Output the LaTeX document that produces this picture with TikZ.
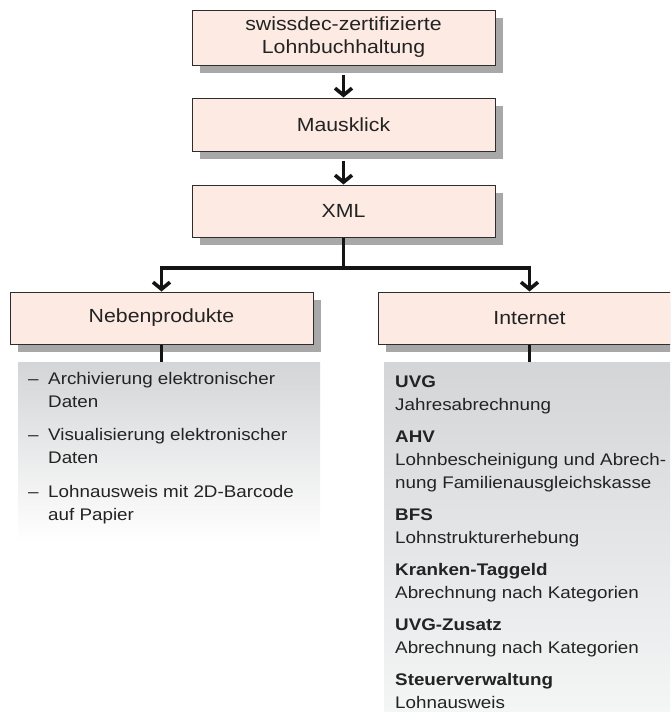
\documentclass[tikz,border=0pt]{standalone}
\usepackage{fontspec}
\setmainfont{Liberation Sans}[FakeStretch=1.12]
\usetikzlibrary{arrows.meta,shadows}
\definecolor{boxfill}{RGB}{253,234,227}
\definecolor{boxline}{RGB}{45,45,45}
\definecolor{shadowc}{RGB}{168,168,168}
\definecolor{paneltop}{RGB}{212,213,215}
\definecolor{panelbot}{RGB}{244,245,245}
\definecolor{txt}{RGB}{35,35,35}
\begin{document}
\begin{tikzpicture}[x=1pt,y=-1pt,
  flowbox/.style={draw=boxline, line width=1pt, fill=boxfill, minimum width=303pt, inner sep=0pt, align=center, text=txt, font=\fontsize{19}{23}\selectfont, drop shadow={shadow xshift=8pt, shadow yshift=-8pt, fill=shadowc, opacity=1}},
  panel/.style={anchor=north west, inner sep=0pt, draw=none},
  conn/.style={line width=3.6pt, draw=black!92},
  arr/.style={conn, -{Straight Barb[length=7pt,width=17pt]}},
  ptext/.style={anchor=base west, inner sep=0pt, text=txt, font=\fontsize{16.8}{23}\selectfont},
  phead/.style={ptext, font=\fontsize{16.8}{23}\selectfont\bfseries}]
\useasboundingbox (0,0) rectangle (670,712);
\clip (0,0) rectangle (670,712);
\fill[white] (0,0) rectangle (670,712);

% panels
\node[panel, minimum width=302pt, minimum height=180pt, top color=paneltop, bottom color=white] (lp) at (18,362) {};
\node[panel, minimum width=300pt, minimum height=350pt, top color=paneltop, bottom color=panelbot] (rp) at (384,362) {};

% boxes
\node[flowbox, minimum height=55pt] (b1) at (343.5,37.5) {swissdec-zertifizierte\\Lohnbuchhaltung};
\node[flowbox, minimum height=53pt] (b2) at (343.5,124.5) {Mausklick};
\node[flowbox, minimum height=52pt] (b3) at (343.5,211) {XML};
\node[flowbox, minimum height=52pt] (nb) at (161.5,318) {Nebenprodukte};
\node[flowbox, minimum height=52pt] (inet) at (529.5,318) {Internet};

% connectors
\draw[arr] ([yshift=-9pt]b1.south) -- (b2.north);
\draw[arr] ([yshift=-9pt]b2.south) -- (b3.north);
\coordinate (split) at (343.5,268);
\draw[conn] (b3.south) -- (split);
\draw[arr] (split) -| (nb.north);
\draw[arr] (split) -| (inet.north);
\draw[conn] (nb.south) -- (nb.south |- lp.north);
\draw[conn] (inet.south) -- (inet.south |- rp.north);

% left panel text
\node[ptext] (d1) at (28,384) {–};
\node[ptext] (l1a) at (48,384) {Archivierung elektronischer};
\node[ptext] (l1b) at (48,407) {Daten};
\node[ptext] (d2) at (28,440.5) {–};
\node[ptext] (l2a) at (48,440.5) {Visualisierung elektronischer};
\node[ptext] (l2b) at (48,463.5) {Daten};
\node[ptext] (d3) at (28,497) {–};
\node[ptext] (l3a) at (48,497) {Lohnausweis mit 2D-Barcode};
\node[ptext] (l3b) at (48,520) {auf Papier};

% right panel text
\node[phead] (h1) at (395,387.7) {UVG};
\node[ptext] (t1) at (395,410.7) {Jahresabrechnung};
\node[phead] (h2) at (395,442.7) {AHV};
\node[ptext] (t2a) at (395,465.7) {Lohnbescheinigung und Abrech-};
\node[ptext] (t2b) at (395,488.7) {nung Familienausgleichskasse};
\node[phead] (h3) at (395,520.7) {BFS};
\node[ptext] (t3) at (395,543.7) {Lohnstrukturerhebung};
\node[phead] (h4) at (395,575.7) {Kranken-Taggeld};
\node[ptext] (t4) at (395,598.7) {Abrechnung nach Kategorien};
\node[phead] (h5) at (395,630.7) {UVG-Zusatz};
\node[ptext] (t5) at (395,653.7) {Abrechnung nach Kategorien};
\node[phead] (h6) at (395,685.7) {Steuerverwaltung};
\node[ptext] (t6) at (395,708.7) {Lohnausweis};
\end{tikzpicture}
\end{document}
